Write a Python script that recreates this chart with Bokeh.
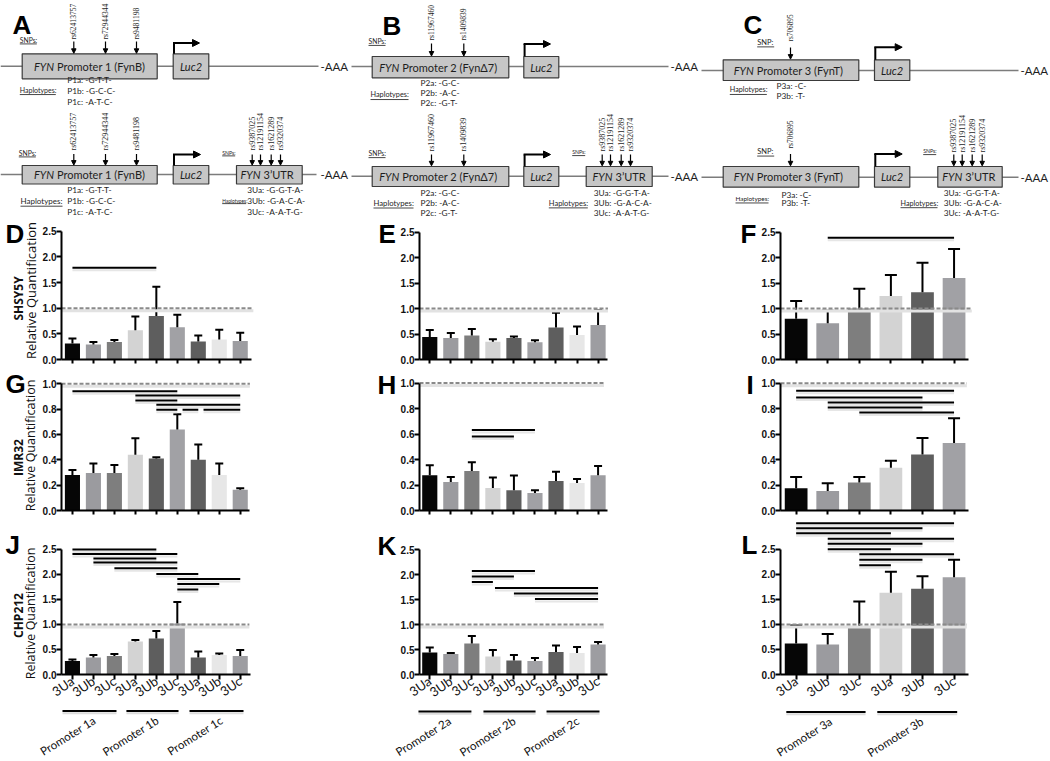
import math
from bokeh.plotting import figure
from bokeh.layouts import column, row
from bokeh.models import (Range1d, FixedTicker, PrintfTickFormatter, Arrow,
                          NormalHead, ColumnDataSource)
from bokeh.core.properties import value
from bokeh.embed import file_html
from bokeh.resources import INLINE

# ---------------- chart values ----------------
bar_labels_9 = ["3Ua", "3Ub", "3Uc", "3Ua", "3Ub", "3Uc", "3Ua", "3Ub", "3Uc"]
bar_labels_6 = ["3Ua", "3Ub", "3Uc", "3Ua", "3Ub", "3Uc"]
promoter1_groups = ["Promoter 1a", "Promoter 1b", "Promoter 1c"]
promoter2_groups = ["Promoter 2a", "Promoter 2b", "Promoter 2c"]
promoter3_groups = ["Promoter 3a", "Promoter 3b"]
cell_lines = ["SHSY5Y", "IMR32", "CHP212"]
axis_title = "Relative Quantification"

D_mean = [0.31, 0.29, 0.34, 0.57, 0.85, 0.63, 0.35, 0.39, 0.36]
D_upper = [0.41, 0.34, 0.38, 0.84, 1.42, 0.87, 0.47, 0.58, 0.52]
D_sig = [(1, 5, 1.79)]
E_mean = [0.44, 0.42, 0.47, 0.35, 0.42, 0.34, 0.63, 0.48, 0.68]
E_upper = [0.58, 0.52, 0.60, 0.40, 0.45, 0.38, 0.92, 0.65, 0.97]
E_sig = []
F_mean = [0.80, 0.71, 1.00, 1.25, 1.32, 1.60]
F_upper = [1.15, 0.96, 1.39, 1.66, 1.90, 2.17]
F_sig = [(2, 6, 2.39)]
G_mean = [0.28, 0.295, 0.295, 0.44, 0.41, 0.64, 0.40, 0.28, 0.163]
G_upper = [0.32, 0.37, 0.36, 0.57, 0.42, 0.76, 0.52, 0.37, 0.176]
G_sig = [(1, 6, 0.942), (4, 9, 0.908), (4, 6, 0.868), (5, 9, 0.834),
         (5, 6, 0.795), (6.25, 7, 0.795), (7.25, 9, 0.795)]
H_mean = [0.276, 0.224, 0.31, 0.176, 0.158, 0.137, 0.232, 0.216, 0.276]
H_upper = [0.355, 0.263, 0.379, 0.258, 0.274, 0.158, 0.303, 0.247, 0.35]
H_sig = [(3, 6, 0.632), (3, 5, 0.58)]
I_mean = [0.175, 0.154, 0.22, 0.335, 0.44, 0.53]
I_upper = [0.264, 0.215, 0.264, 0.39, 0.57, 0.725]
I_sig = [(1, 6, 0.94), (1, 5, 0.887), (2, 6, 0.848), (2, 5, 0.809), (3, 6, 0.77)]
J_mean = [0.27, 0.34, 0.37, 0.66, 0.72, 1.02, 0.34, 0.39, 0.37]
J_upper = [0.30, 0.39, 0.41, 0.69, 0.87, 1.45, 0.46, 0.42, 0.49]
J_sig = [(1, 5, 2.50), (1, 6, 2.41), (2, 5, 2.32), (2, 6, 2.24), (3, 6, 2.125),
         (5, 7, 2.01), (6, 9, 1.91), (6, 8, 1.81), (6, 7, 1.70)]
K_mean = [0.44, 0.41, 0.62, 0.36, 0.28, 0.27, 0.45, 0.43, 0.60]
K_upper = [0.54, 0.43, 0.77, 0.49, 0.39, 0.33, 0.58, 0.55, 0.65]
K_sig = [(3, 6, 2.07), (3, 5, 1.96), (3, 4, 1.85), (4.1, 9, 1.73), (5, 9, 1.62), (6, 9, 1.51)]
L_mean = [0.62, 0.60, 0.95, 1.63, 1.71, 1.94]
L_upper = [0.98, 0.81, 1.46, 2.05, 1.96, 2.29]
L_sig = [(1, 6, 3.02), (1, 5, 2.92), (1, 4, 2.82), (2, 6, 2.71), (2, 5, 2.61),
         (2, 4, 2.50), (3, 6, 2.40), (3, 5, 2.29), (3, 4, 2.18)]

ticks_25 = [0.0, 0.5, 1.0, 1.5, 2.0, 2.5]
ticks_10 = [0.0, 0.2, 0.4, 0.6, 0.8, 1.0]

# diagram texts
snps_p1 = ["rs62413757", "rs72944344", "rs9481198"]
snps_p2 = ["rs11967460", "rs1409839"]
snps_p3 = ["rs706895"]
snps_utr = ["rs9387025", "rs12191154", "rs1621289", "rs9320374"]
hap_p1 = ["P1a: -G-T-T-", "P1b: -G-C-C-", "P1c: -A-T-C-"]
hap_p2 = ["P2a: -G-C-", "P2b: -A-C-", "P2c: -G-T-"]
hap_p3 = ["P3a: -C-", "P3b: -T-"]
hap_utr = ["3Ua: -G-G-T-A-", "3Ub: -G-A-C-A-", "3Uc:  -A-A-T-G-"]
promoter_names = ["Promoter 1 (FynB)", "Promoter 2  (FynΔ7)", "Promoter 3  (FynT)"]

# ---------------- styles / layout (page pixel geometry) ----------------
COL9 = ["#060606", "#9b9b9f", "#7e7e7e", "#d3d3d3", "#5e5e5e", "#a1a1a5", "#5e5e5e", "#e7e7e7", "#9d9da1"]
COL6 = COL9[:6]
PAGE_W, PAGE_H = 1050, 761
ROW_TOP, ROW_BOT, STRIP_W = 218, 709, 39

CAN = {
    "D": (39, 218, 358, 150), "G": (39, 368, 358, 160), "J": (39, 528, 358, 181),
    "E": (397, 218, 361, 150), "H": (397, 368, 361, 160), "K": (397, 528, 361, 181),
    "F": (758, 218, 292, 150), "I": (758, 368, 292, 150), "L": (758, 518, 292, 191),
}
# axis x, first bar centre, bar spacing, zero y, px per unit, x-axis end, dash end
GEO = {
    "D": (58.5, 70, 21.1, 359, 51.3, 250, 252),
    "G": (59, 70, 21.1, 510, 126.7, 248, 248.5),
    "J": (59, 70, 21.1, 676, 50.7, 249, 248),
    "E": (417.7, 428.3, 21.1, 359, 50.9, 607, 607),
    "H": (417.7, 428.3, 21.1, 510, 127.5, 607, 603),
    "K": (417.7, 428.3, 21.1, 676.7, 51.0, 607, 603),
    "F": (778.7, 794.7, 31.7, 359, 50.9, 968, 971),
    "I": (778.7, 794.7, 31.7, 510, 127.3, 968, 966),
    "L": (778.7, 794.7, 31.7, 675.3, 50.4, 968, 966),
}
# panel letters: left x, vertical centre
LET = {"A": (12, 24), "B": (382, 25), "C": (743, 24),
       "D": (5, 233), "E": (378, 233), "F": (740, 233),
       "G": (5, 383.5), "H": (377, 384.5), "I": (746, 384.5),
       "J": (5, 544), "K": (377, 545.5), "L": (741, 545)}
HOSTS = {"D": ["E"], "G": ["H"], "J": ["K"], "E": ["F"], "H": ["I"], "K": ["L"]}
CELL = [((17.5, 298), (30, 290), "13px"), ((17.5, 457), (30, 445), "12.5px"), ((17.5, 615), (30, 613), "12.5px")]
GROUP_LINE_Y = {"J": 710.5, "K": 711, "L": 711.5}
GROUP_SPANS = {"J": [(0.62, 3.18), (3.65, 6.12), (6.64, 9.2)],
               "K": [(0.51, 3.02), (3.59, 6.06), (6.58, 9.09)],
               "L": [(0.72, 3.22), (3.59, 6.11)]}

LETTER = dict(text_font=value("Liberation Sans"), text_font_style="bold", text_font_size="26px",
              text_color="black", text_align="left", text_baseline="middle")
TXT = "#1e1e1e"


def Y(v):
    return -v


def bar_panel(key, means, uppers, sig, yticks, xlabels=None):
    cx, cy, W, H = CAN[key]
    ax_x, x0, s, y0, ppu, xend_px, dend_px = GEO[key]
    bl = int(round(ax_x - cx))
    bb = int(round(cy + H - y0))
    fl = cx + bl
    frr = cx + W
    fb = cy + H - bb

    def DX(px):
        return 1 + (px - x0) / s

    def DY(py):
        return (fb - py) / ppu

    p = figure(width=W, height=H, x_range=Range1d(DX(fl), DX(frr)), y_range=Range1d(0, DY(cy)),
               min_border_left=bl, min_border_right=0, min_border_bottom=bb, min_border_top=0,
               toolbar_location=None, output_backend="svg", outline_line_color=None, title=None)
    p.xgrid.visible = False
    p.ygrid.visible = False
    n = len(means)
    xs = list(range(1, n + 1))
    cols = COL9[:n] if n == 9 else COL6

    p.vbar(x=xs, top=means, width=0.72, fill_color=cols, line_color=None)
    p.segment(x0=xs, y0=means, x1=xs, y1=uppers, line_color="black", line_width=2)
    cw = 0.19
    p.segment(x0=[v - cw for v in xs], y0=uppers, x1=[v + cw for v in xs], y1=uppers,
              line_color="black", line_width=2)

    # reference line at 1.0 with soft shadow
    sh = 2.5 / ppu
    p.segment(x0=[DX(fl)], y0=[1 - sh], x1=[DX(dend_px)], y1=[1 - sh], line_color="#e2e2e2", line_width=3)
    p.segment(x0=[DX(fl)], y0=[1.0], x1=[DX(dend_px)], y1=[1.0], line_color="#8a8a8a",
              line_width=2, line_dash="4 2")

    if sig:
        a = [t[0] for t in sig]
        b = [t[1] for t in sig]
        lv = [t[2] for t in sig]
        p.segment(x0=a, y0=[v - 2.5 / ppu for v in lv], x1=b, y1=[v - 2.5 / ppu for v in lv],
                  line_color="#e6e6e6", line_width=2)
        p.segment(x0=a, y0=lv, x1=b, y1=lv, line_color="black", line_width=2)

    yax = p.yaxis[0]
    xax = p.xaxis[0]
    yax.ticker = FixedTicker(ticks=yticks)
    yax.formatter = PrintfTickFormatter(format="%.1f")
    yax.bounds = (0, yticks[-1])
    for ax in (xax, yax):
        ax.axis_line_width = 2
        ax.axis_line_color = "black"
        ax.major_tick_line_width = 2
        ax.major_tick_line_color = "black"
        ax.major_tick_out = 5
        ax.major_tick_in = 0
        ax.minor_tick_line_color = None
    yax.major_label_text_font = "Liberation Sans"
    yax.major_label_text_font_style = "bold"
    yax.major_label_text_font_size = "10px"
    yax.major_label_text_color = "#111111"
    yax.major_label_standoff = 0
    xax.ticker = FixedTicker(ticks=xs)
    xax.bounds = (DX(fl), DX(xend_px))
    if xlabels:
        xax.major_label_overrides = {i + 1: lab for i, lab in enumerate(xlabels)}
        xax.major_label_orientation = math.radians(35)
        xax.major_label_text_font = "Lato"
        xax.major_label_text_font_size = "13px"
        xax.major_label_text_color = "#111111"
        xax.major_label_standoff = 0
    else:
        xax.major_label_text_font_size = "1px"
        xax.major_label_text_color = None
        xax.major_label_standoff = 0
        xax.major_tick_out = 4

    # panel letters of the neighbouring panel that fall inside this frame
    for k in HOSTS.get(key, []):
        lx, ly = LET[k]
        p.text(x=[DX(lx)], y=[DY(ly)], text=[k], **LETTER)
    return p


# ---------------- construct diagrams ----------------
CONSTRUCTS = [
    dict(bb=(0, 318, 65.7), prom=(21.7, 156.7), luc=(172.7, 208.3), utr=None, by=(53.3, 78.3),
         split=53.5, name=promoter_names[0], arrow_top=42.5, arrow_right=199,
         snps=[([73.3, 105, 136], snps_p1, (41, 52.8), 39, 7.6)],
         tags=[("SNPs:", 19.3, 39, 17, 6.8), ("Haplotypes:", 19.3, 89.5, 36, 7.0)],
         haps=[(66.7, [79, 90, 101], hap_p1)], aaa=(320, 65.7, "left")),
    dict(bb=(0, 316, 174), prom=(21.7, 156.7), luc=(172.7, 208.3), utr=(236, 301.7), usplit=260,
         by=(165, 183.5), split=53.5, name=promoter_names[0], arrow_top=154, arrow_right=200,
         snps=[([73.3, 105, 136], snps_p1, (153.5, 164.6), 150, 8.0),
               ([251.7, 260, 270.7, 280], snps_utr, (154, 164.6), 150, 8.0)],
         tags=[("SNPs:", 18.3, 152, 17, 6.8), ("SNPs:", 221.7, 152, 13, 5.2),
               ("Haplotypes:", 20, 200.5, 42, 8.0), ("Haplotypes:", 221.7, 200, 24, 4.8)],
         haps=[(66.7, [189.5, 200.3, 211], hap_p1), (246.7, [189.5, 200.3, 211], hap_utr)],
         aaa=(320, 174, "left")),
    dict(bb=(351, 668, 66), prom=(371.7, 508.3), luc=(523.3, 558.3), utr=None, by=(56, 77.3),
         split=398.8, name=promoter_names[1], arrow_top=43.5, arrow_right=550,
         snps=[([431, 463.3], snps_p2, (43, 55.5), 40, 7.6)],
         tags=[("SNPs:", 368, 40.5, 17, 6.8), ("Haplotypes:", 370, 94.3, 38, 7.3)],
         haps=[(420, [82.3, 92, 102.5], hap_p2)], aaa=(670, 66, "left")),
    dict(bb=(351, 668, 175.7), prom=(371.7, 508.3), luc=(523.3, 558.3), utr=(585.7, 651.7), usplit=612,
         by=(166, 186), split=398.8, name=promoter_names[1], arrow_top=154, arrow_right=550,
         snps=[([431, 463.3], snps_p2, (154, 165.3), 151, 8.0),
               ([601.7, 610, 620.7, 630], snps_utr, (154, 165.3), 151, 8.0)],
         tags=[("SNPs:", 368, 152.7, 17, 6.8), ("SNPs:", 571.7, 151.7, 13, 5.2),
               ("Haplotypes:", 373, 202.5, 40, 7.7), ("Haplotypes:", 548.3, 202.5, 39, 7.5)],
         haps=[(420, [192.5, 202.5, 212.5], hap_p2), (593.3, [192.5, 202.5, 212.5], hap_utr)],
         aaa=(670, 175.7, "left")),
    dict(bb=(701, 1018, 70), prom=(722.7, 858.3), luc=(874, 909.3), utr=None, by=(59.3, 80),
         split=753.3, name=promoter_names[2], arrow_top=46.7, arrow_right=901.7,
         snps=[([790], snps_p3, (47, 58.6), 41, 7.3)],
         tags=[("SNP:", 756.7, 41.5, 17, 7.5), ("Haplotypes:", 729.3, 89.3, 37, 7.2)],
         haps=[(776, [85, 95], hap_p3)], aaa=(1020, 70, "left")),
    dict(bb=(701, 1018, 176.7), prom=(722.7, 858.3), luc=(874, 909.3), utr=(937.3, 1001.7), usplit=961.7,
         by=(166, 186.7), split=753.3, name=promoter_names[2], arrow_top=153.5, arrow_right=901.7,
         snps=[([790], snps_p3, (153.5, 165.3), 148, 7.5),
               ([953.3, 961.7, 971.7, 981.7], snps_utr, (154, 165.3), 152, 8.0)],
         tags=[("SNP:", 756.7, 150.7, 17, 7.5), ("SNPs:", 922.7, 150.7, 13, 5.2),
               ("Haplotypes:", 735, 198.3, 33, 6.4), ("Haplotypes:", 900, 202.5, 37, 7.2)],
         haps=[(781, [194, 202], hap_p3), (943.3, [192.5, 202.5, 212.5], hap_utr)],
         aaa=(1020, 176.7, "left")),
]


def draw_construct(p, c):
    bx0, bx1, byy = c["bb"]
    p.segment(x0=[bx0], y0=[Y(byy)], x1=[bx1], y1=[Y(byy)], line_color="#7c7c7c", line_width=1.6)
    boxes = [c["prom"], c["luc"]] + ([c["utr"]] if c["utr"] else [])
    t, b = c["by"]
    p.quad(left=[q[0] for q in boxes], right=[q[1] for q in boxes], top=[Y(t)] * len(boxes),
           bottom=[Y(b)] * len(boxes), fill_color="#c6c6c6", line_color="#3a3a3a", line_width=1.2)
    my = Y((t + b) / 2)
    common = dict(text_baseline="middle", text_font=value("Lato"), text_color=TXT)
    p.text(x=[c["split"]], y=[my], text=["FYN"], text_align="right", text_font_style="italic",
           text_font_size="11px", **common)
    p.text(x=[c["split"] + 3], y=[my], text=[c["name"]], text_align="left", text_font_size="11px", **common)
    lx = (c["luc"][0] + c["luc"][1]) / 2
    p.text(x=[lx], y=[my], text=["Luc2"], text_align="center", text_font_style="italic",
           text_font_size="11px", **common)
    if c["utr"]:
        p.text(x=[c["usplit"]], y=[my], text=["FYN"], text_align="right", text_font_style="italic",
               text_font_size="11px", **common)
        p.text(x=[c["usplit"] + 3], y=[my], text=["3’UTR"], text_align="left",
               text_font_size="11px", **common)
    # transcription start arrow
    ax = c["luc"][0] + 0.8
    p.segment(x0=[ax], y0=[Y(t)], x1=[ax], y1=[Y(c["arrow_top"])], line_color="black", line_width=2)
    p.add_layout(Arrow(end=NormalHead(size=7, fill_color="black", line_color="black", line_width=1),
                       x_start=ax - 1, y_start=Y(c["arrow_top"]), x_end=c["arrow_right"],
                       y_end=Y(c["arrow_top"]), line_width=2, line_color="black"))
    # SNP arrows and names
    for xs, names, (ya, yb), lab_bottom, fs in c["snps"]:
        src = ColumnDataSource(dict(x0=xs, y0=[Y(ya)] * len(xs), x1=xs, y1=[Y(yb)] * len(xs)))
        p.add_layout(Arrow(end=NormalHead(size=4.5, fill_color="black", line_color="black", line_width=1),
                           x_start="x0", y_start="y0", x_end="x1", y_end="y1", source=src,
                           line_width=1.2, line_color="black"))
        p.text(x=xs, y=[Y(lab_bottom)] * len(xs), text=names, angle=math.pi / 2, text_align="left",
               text_baseline="middle", text_font=value("Liberation Serif"), text_font_size=f"{fs}px",
               text_color=TXT)
    for txt, tx, ty, uw, fs in c["tags"]:
        p.text(x=[tx], y=[Y(ty)], text=[txt], text_align="left", text_baseline="middle",
               text_font=value("Lato"), text_font_size=f"{fs}px", text_color=TXT)
        p.segment(x0=[tx], y0=[Y(ty + fs * 0.65)], x1=[tx + uw], y1=[Y(ty + fs * 0.65)],
                  line_color="#333333", line_width=0.9)
    for hx, hys, haps in c["haps"]:
        p.text(x=[hx] * len(haps), y=[Y(v) for v in hys], text=haps, text_align="left",
               text_baseline="middle", text_font=value("Lato"), text_font_size="8.3px", text_color=TXT)
    axx, ayy, al = c["aaa"]
    p.text(x=[axx], y=[Y(ayy)], text=["-AAA"], text_align=al, text_baseline="middle",
           text_font=value("Lato"), text_font_size="11.5px", text_color=TXT)


def blank(width, height, x0, x1, y0, y1):
    f = figure(width=width, height=height, x_range=Range1d(x0, x1), y_range=Range1d(Y(y1), Y(y0)),
               x_axis_type=None, y_axis_type=None, toolbar_location=None, output_backend="svg",
               min_border_left=0, min_border_right=0, min_border_top=0, min_border_bottom=0,
               outline_line_color=None, title=None)
    return f


top = blank(PAGE_W, ROW_TOP, 0, PAGE_W, 0, ROW_TOP)
for c in CONSTRUCTS:
    draw_construct(top, c)
for k in ("A", "B", "C"):
    lx, ly = LET[k]
    top.text(x=[lx], y=[Y(ly)], text=[k], **LETTER)

# left strip: panel letters D, G, J and the y-axis titles
strip = blank(STRIP_W, ROW_BOT - ROW_TOP, 0, STRIP_W, ROW_TOP, ROW_BOT)
for k in ("D", "G", "J"):
    lx, ly = LET[k]
    strip.text(x=[lx], y=[Y(ly)], text=[k], **LETTER)
for name, ((nx, ny), (rx, ry), fs) in zip(cell_lines, CELL):
    strip.text(x=[nx], y=[Y(ny)], text=[name], angle=math.pi / 2, text_align="center",
               text_baseline="middle", text_font=value("Open Sans"), text_font_style="bold",
               text_font_size="12px", text_color="#111111")
    strip.text(x=[rx], y=[Y(ry)], text=[axis_title], angle=math.pi / 2, text_align="center",
               text_baseline="middle", text_font=value("Open Sans"), text_font_size=fs,
               text_color="#111111")

pD = bar_panel("D", D_mean, D_upper, D_sig, ticks_25)
pG = bar_panel("G", G_mean, G_upper, G_sig, ticks_10)
pJ = bar_panel("J", J_mean, J_upper, J_sig, ticks_25, xlabels=bar_labels_9)
pE = bar_panel("E", E_mean, E_upper, E_sig, ticks_25)
pH = bar_panel("H", H_mean, H_upper, H_sig, ticks_10)
pK = bar_panel("K", K_mean, K_upper, K_sig, ticks_25, xlabels=bar_labels_9)
pF = bar_panel("F", F_mean, F_upper, F_sig, ticks_25)
pI = bar_panel("I", I_mean, I_upper, I_sig, ticks_10)
pL = bar_panel("L", L_mean, L_upper, L_sig, ticks_25, xlabels=bar_labels_6)

# bottom strip: promoter group underlines and names
bottom = blank(PAGE_W, PAGE_H - ROW_BOT, 0, PAGE_W, ROW_BOT, PAGE_H)
for key, groups in (("J", promoter1_groups), ("K", promoter2_groups), ("L", promoter3_groups)):
    _, x0, s, _, _, _, _ = GEO[key]
    gy = GROUP_LINE_Y[key]
    for g, (a, b) in zip(groups, GROUP_SPANS[key]):
        pa, pb = x0 + (a - 1) * s, x0 + (b - 1) * s
        bottom.segment(x0=[pa], y0=[Y(gy + 2.2)], x1=[pb], y1=[Y(gy + 2.2)], line_color="#dcdcdc", line_width=2)
        bottom.segment(x0=[pa], y0=[Y(gy)], x1=[pb], y1=[Y(gy)], line_color="black", line_width=2)
        bottom.text(x=[(pa + pb) / 2 + 5], y=[Y(gy + 8)], text=[g], angle=math.radians(32),
                    text_align="right", text_baseline="middle", text_font=value("Lato"),
                    text_font_size="11.5px", text_color="#111111")

layout = column(top,
                row(strip, column(pD, pG, pJ), column(pE, pH, pK), column(pF, pI, pL)),
                bottom)

open("out.html", "w").write(file_html(layout, INLINE))
